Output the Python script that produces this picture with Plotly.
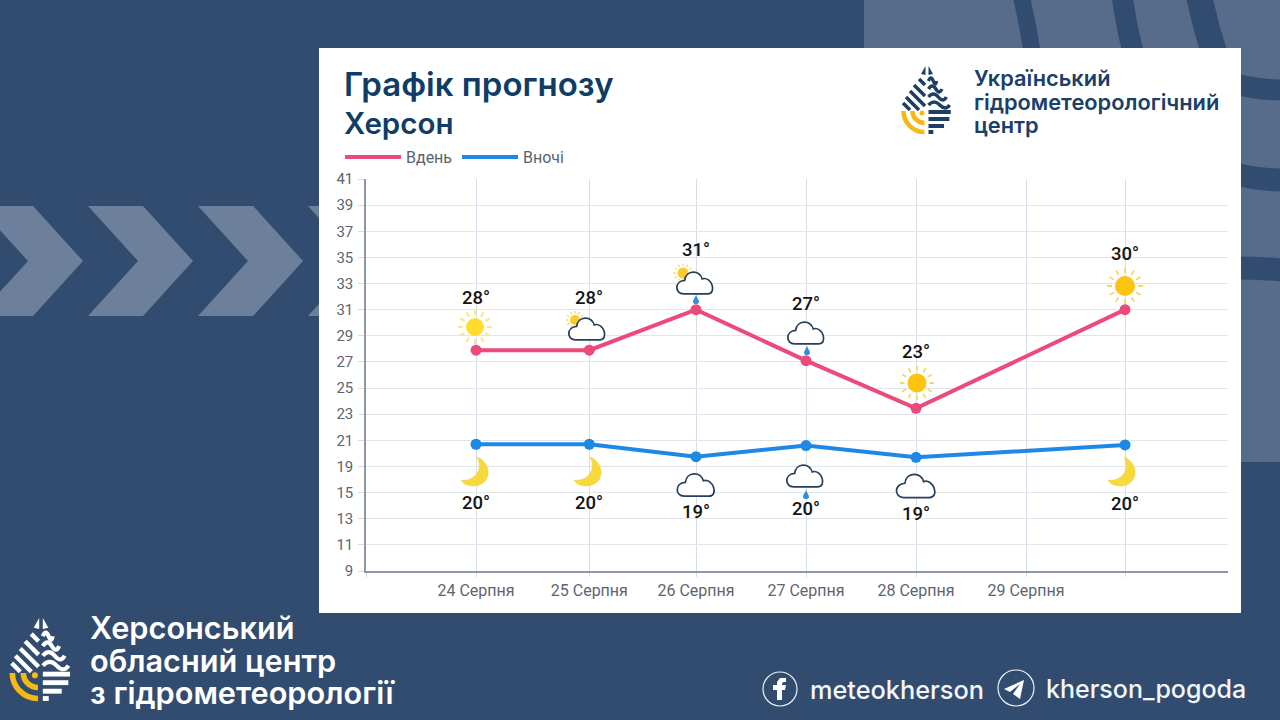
import math
import plotly.graph_objects as go

# values
day_numbers = [24, 25.03, 26, 27, 28, 29.9]
day_temps = [27.9, 27.9, 31.0, 27.1, 23.45, 31.0]
night_temps = [20.7, 20.7, 19.75, 20.6, 19.7, 20.65]
day_labels = ["28°", "28°", "31°", "27°", "23°", "30°"]
night_labels = ["20°", "20°", "19°", "20°", "19°", "20°"]

x_tick_days = [23, 24, 25.03, 26, 27, 28, 29, 29.9, 30.84]
x_tick_labels = ["", "24 Серпня", "25 Серпня", "26 Серпня", "27 Серпня", "28 Серпня", "29 Серпня", "", ""]

# the source axis skips 17, so the labels below 21 sit one step off their value
y_tick_slots = list(range(11, 43, 2))
y_tick_labels = ["9", "11", "13", "15", "19", "21", "23", "25", "27", "29", "31", "33", "35", "37", "39", "41"]

W = 1280
H = 720
BG = "#324c70"
PANEL = "#566c8a"
CHEVRON = "#6d809b"
DARK = "#1d3f66"
YELLOW = "#f5b915"
CLOUD = "#263f5c"
DROP = "#2f8fdc"


def px(x):
  return x / W


def py(y):
  return 1 - y / H


def pt(x, y):
  return "%.5f %.5f" % (px(x), py(y))


def path(d, fill=None, line=None, width=0, layer="above"):
  return dict(
      type="path", xref="paper", yref="paper", path=d, layer=layer,
      fillcolor=fill if fill else "rgba(0,0,0,0)",
      line=dict(color=line if line else "rgba(0,0,0,0)", width=width),
  )


def poly(points, fill, layer="below"):
  d = "M " + " L ".join(pt(x, y) for x, y in points) + " Z"
  return path(d, fill=fill, layer=layer)


def circle(cx, cy, r, fill=None, line=None, width=0):
  return dict(
      type="circle", xref="paper", yref="paper", layer="above",
      x0=px(cx - r), x1=px(cx + r), y0=py(cy + r), y1=py(cy - r),
      fillcolor=fill if fill else "rgba(0,0,0,0)",
      line=dict(color=line if line else "rgba(0,0,0,0)", width=width),
  )


def band(x0, y0, cx, cy, x1, y1, width):
  d = "M %s Q %s %s" % (pt(x0, y0), pt(cx, cy), pt(x1, y1))
  return path(d, line=BG, width=width, layer="below")


def sun(cx, cy, r, ray0, ray1, core, ray_color, width=1.6):
  d = ""
  for i in range(12):
    a = i * math.pi / 6
    d += "M %s L %s " % (
        pt(cx + ray0 * math.cos(a), cy + ray0 * math.sin(a)),
        pt(cx + ray1 * math.cos(a), cy + ray1 * math.sin(a)),
    )
  return [path(d, line=ray_color, width=width), circle(cx, cy, r, fill=core)]


def cloud(cx, cy, s=1.0):
  def p(x, y):
    return pt(cx + x * s, cy + y * s)
  d = "M %s C %s %s %s C %s %s %s C %s %s %s Z" % (
      p(-12, 10.5), p(-21, 10.5), p(-21, -2), p(-11, -2.5),
      p(-10, -13), p(4, -13), p(6, -4),
      p(15, -7), p(21, 10.5), p(11, 10.5),
  )
  return [path(d, fill="white", line=CLOUD, width=1.7)]


def drop(cx, cy):
  d = "M %s C %s %s %s C %s %s %s C %s %s %s Z" % (
      pt(cx, cy - 5), pt(cx - 1, cy - 2), pt(cx - 3, cy), pt(cx - 3, cy + 1.5),
      pt(cx - 3, cy + 5), pt(cx + 3, cy + 5), pt(cx + 3, cy + 1.5),
      pt(cx + 3, cy), pt(cx + 1, cy - 2), pt(cx, cy - 5),
  )
  return [path(d, fill=DROP)]


def moon(cx, cy):
  def p(x, y):
    return pt(cx + x, cy + y)
  d = "M %s C %s %s %s C %s %s %s C %s %s %s Z" % (
      p(2, -15), p(18, -9), p(17, 14), p(-2, 14),
      p(-7, 14), p(-12, 12), p(-14, 8),
      p(-1, 10), p(9, -2), p(2, -15),
  )
  return [path(d, fill="#f6d93b", line="#f2cf45", width=0.5)]


def logo(cx, top, s, color):
  shapes = []

  def p(x, y):
    return pt(cx + x * s, top + y * s)

  def half_width(dy):
    table = [(0, 0), (10, 6), (20, 13), (30, 19), (40, 23), (45, 24), (55, 22), (62, 15), (68, 2)]
    for (a, wa), (b, wb) in zip(table, table[1:]):
      if a <= dy <= b:
        return wa + (wb - wa) * (dy - a) / (b - a)
    return 0

  # top tip
  shapes.append(path("M %s L %s L %s Z" % (p(-1.5, 0), p(-1.5, 9), p(-6, 8)), fill=color))
  shapes.append(path("M %s L %s L %s Z" % (p(1.5, 0), p(1.5, 9), p(6, 8)), fill=color))
  # left diagonals
  for x0, y0, x1, y1 in [(-8, 13, -2, 19), (-13, 19, -2, 30), (-17, 25, -2, 40), (-21, 31, -8, 44), (-24, 37, -17, 44)]:
    shapes.append(path("M %s L %s" % (p(x0, y0), p(x1, y1)), line=color, width=3.6 * s))
  # right waves
  for dy in [15, 23, 31, 39]:
    w = half_width(dy)
    shapes.append(path("M %s Q %s %s T %s" % (p(1.5, dy), p(1.5 + w / 4, dy - 6), p(1.5 + w / 2, dy), p(w, dy)),
                       line=color, width=3.4 * s))
  # right straight stripes
  for dy in [46, 53, 60, 66]:
    shapes.append(path("M %s L %s" % (p(1.5, dy), p(half_width(dy), dy)), line=color, width=4 * s))
  # yellow arcs
  k = 0.55
  for r in [21, 12]:
    cx0, cy0 = -2.5, 45
    shapes.append(path("M %s C %s %s %s" % (
        p(cx0 - r, cy0), p(cx0 - r, cy0 + r * k), p(cx0 - r * k, cy0 + r), p(cx0, cy0 + r)),
        line=YELLOW, width=4.6 * s))
  shapes.append(circle(cx + (-5) * s, top + 47 * s, 2.5 * s, fill=YELLOW))
  return shapes


shapes = []

# background panel, top right
shapes.append(poly([(864, 0), (1280, 0), (1280, 462), (1241, 462), (1241, 48), (864, 48)], PANEL))
shapes.append(band(1021, -5, 1028, 25, 1032, 52, 17))
shapes.append(band(1122, -5, 1126, 25, 1133, 52, 21))
shapes.append(band(1199, -5, 1205, 25, 1214, 52, 26))
shapes.append(band(1236, 84, 1258, 90, 1284, 90, 21))
shapes.append(band(1236, 174, 1258, 180, 1284, 180, 23))
shapes.append(band(1236, 268, 1258, 268, 1284, 270, 23))

# chevrons
for x in [-22, 88, 198, 308]:
  shapes.append(poly([(x, 206), (x + 55, 206), (x + 105, 261), (x + 55, 316), (x, 316), (x + 50, 261)], CHEVRON))

# white card
shapes.append(poly([(319, 48), (1241, 48), (1241, 613), (319, 613)], "#ffffff"))

# weather icons
shapes += sun(475, 327, 9, 12, 17, "#ffdc2e", "#f9e98c", 2.2)
shapes += sun(575, 320, 5, 6.5, 9, "#fbcb2a", "#f5d874", 1.4)
shapes += cloud(588, 329, 1.03)
shapes += sun(683, 273, 5.5, 7, 9.5, "#fbcb2a", "#f5d874", 1.4)
shapes += cloud(696, 283, 1.03)
shapes += drop(696, 300)
shapes += cloud(807, 333, 1.03)
shapes += drop(807, 351)
shapes += sun(917, 383, 9.5, 12.5, 17, "#fcc40f", "#f3d768", 1.8)
shapes += sun(1125, 286, 10, 13, 18, "#fcc40f", "#f3d768", 1.8)
shapes += moon(475, 472)
shapes += moon(588, 472)
shapes += moon(1122, 472)
shapes += cloud(697, 485, 1.06)
shapes += cloud(806, 476, 1.03)
shapes += drop(806, 495)
shapes += cloud(917, 486, 1.1)

# logos
shapes += logo(927, 66, 1.0, DARK)
shapes += logo(41, 618, 1.22, "#ffffff")

# social icons
shapes.append(circle(780, 689, 17, line="#eef2f7", width=1.2))
shapes.append(poly([(777, 700), (777, 690), (773, 690), (773, 685), (777, 685), (777, 682), (780, 678), (786, 678),
                    (786, 682), (783, 682), (782, 684), (782, 685), (786, 685), (785, 690), (782, 690), (782, 700)],
                   "#ffffff", layer="above"))
shapes.append(circle(1016, 688, 18, line="#eef2f7", width=1.2))
shapes.append(poly([(1004, 689), (1024, 680), (1020, 699), (1013, 694), (1020, 684), (1010, 692)],
                   "#ffffff", layer="above"))


def text(x, y, s, size, color, font="Inter", weight=600, anchor="left"):
  return dict(
      xref="paper", yref="paper", x=px(x), y=py(y), text=s, showarrow=False,
      xanchor=anchor, yanchor="middle", align=anchor,
      font=dict(family=font, size=size, color=color, weight=weight),
  )


annotations = [
    text(342, 84, "Графік прогнозу", 33, "#0f3d66"),
    text(342, 123, "Херсон", 29.5, "#0f3d66"),
    text(972, 78, "Український", 21.8, "#1a3f68"),
    text(972, 102, "гідрометеорологічний", 21.8, "#1a3f68"),
    text(972, 125, "центр", 21.8, "#1a3f68"),
    text(88, 627, "Херсонський", 30.7, "#ffffff"),
    text(88, 660, "обласний центр", 30.7, "#ffffff"),
    text(88, 692, "з гідрометеорології", 30.7, "#ffffff"),
    text(808, 689, "meteokherson", 25.3, "#f2f5f9", weight=500),
    text(1044, 689, "kherson_pogoda", 25, "#f2f5f9", weight=500),
]

# degree labels are anchored to their day, heights taken from the picture
day_label_rows = [298, 298, 250, 304, 352, 254]
night_label_rows = [503, 503, 512, 509, 514, 504]
for day, s, row in zip(day_numbers, day_labels, day_label_rows):
  annotations.append(dict(xref="x", yref="paper", x=day, y=py(row), text=s, showarrow=False, yanchor="middle",
                          font=dict(family="Roboto", size=18.5, color="#141414", weight=500)))
for day, s, row in zip(day_numbers, night_labels, night_label_rows):
  annotations.append(dict(xref="x", yref="paper", x=day, y=py(row), text=s, showarrow=False, yanchor="middle",
                          font=dict(family="Roboto", size=18.5, color="#141414", weight=500)))

PINK = "#ec4a7b"
BLUE = "#1e88e5"

line_day = go.Scatter(x=day_numbers, y=day_temps, mode="lines", name="Вдень", line=dict(color=PINK, width=4))
line_night = go.Scatter(x=day_numbers, y=night_temps, mode="lines", name="Вночі", line=dict(color=BLUE, width=4))
dots_day = go.Scatter(x=day_numbers, y=day_temps, mode="markers", showlegend=False, marker=dict(color=PINK, size=11))
dots_night = go.Scatter(x=day_numbers, y=night_temps, mode="markers", showlegend=False, marker=dict(color=BLUE, size=11))

fig = go.Figure(data=[line_day, line_night, dots_day, dots_night])

fig.update_layout(
    width=W,
    height=H,
    margin=dict(l=0, r=0, t=0, b=0, autoexpand=False),
    paper_bgcolor=BG,
    plot_bgcolor="rgba(0,0,0,0)",
    shapes=shapes,
    annotations=annotations,
    showlegend=True,
    legend=dict(
        orientation="h", x=px(340), y=py(157), xanchor="left", yanchor="middle",
        itemwidth=56, bgcolor="rgba(0,0,0,0)",
        font=dict(family="Roboto", size=16, color="#5a6270"),
    ),
    xaxis=dict(
        domain=[px(366), px(1228)], range=[23, 30.836],
        tickmode="array", tickvals=x_tick_days, ticktext=x_tick_labels,
        showgrid=True, gridcolor="#d8dce8", gridwidth=1, zeroline=False,
        showline=True, linecolor="#8f96a8", linewidth=2,
        ticks="outside", ticklen=4, tickcolor="#d8dce8", tickwidth=1,
        tickfont=dict(family="Roboto", size=16, color="#5e6570"),
    ),
    yaxis=dict(
        domain=[py(571), py(179)], range=[11, 41],
        tickmode="array", tickvals=y_tick_slots, ticktext=y_tick_labels,
        showgrid=True, gridcolor="#e0e4ec", gridwidth=1, zeroline=False,
        showline=True, linecolor="#8f96a8", linewidth=1.5,
        ticks="outside", ticklen=6, tickcolor="#d8dce8", tickwidth=1, ticklabelstandoff=2,
        tickfont=dict(family="Roboto", size=15, color="#5e6570"),
    ),
)

fig.write_html("out.html", config={"displayModeBar": False}, post_script="document.body.style.margin='0';")
